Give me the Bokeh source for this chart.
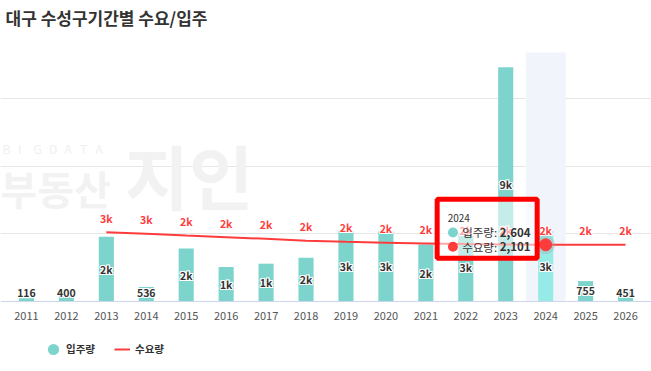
from bokeh.plotting import figure
from bokeh.models import FactorRange, Range1d, ColumnDataSource, FixedTicker, Legend, LegendItem, Label
from bokeh.core.properties import value
from bokeh.embed import file_html
from bokeh.resources import INLINE

# ---------------- data ----------------
years = [str(y) for y in range(2011, 2027)]
supply = [116, 400, 2400, 536, 1960, 1280, 1400, 1620, 2610, 2600, 2110, 2550, 8680, 2604, 755, 451]
demand_years = [str(y) for y in range(2013, 2027)]
demand = [2567, 2505, 2440, 2380, 2320, 2250, 2210, 2180, 2150, 2125, 2110, 2101, 2101, 2101]
highlight_year = "2024"
title_text = "대구 수성구기간별 수요/입주"
supply_name = "입주량"
demand_name = "수요량"

# ---------------- style ----------------
FONT = "Noto Sans CJK KR"
BAR = "#7dd4cd"
BAR_HI = "#96ebe6"
RED = "#ff3c3c"
BAND = "#f1f4fa"
W, H = 651, 371
PAD = 0.15                        # category units of padding on each side
TOP = 52                          # page row of the plot-area top
AXIS_Y = 301                      # page row of the value-zero line
Y_END = 9222                      # value at the plot-area top
px_y = Y_END / (AXIS_Y - TOP)     # data units per pixel
px_x = (len(years) + 2 * PAD) / W # category units per pixel
X0 = -PAD                         # synthetic x at the left page edge


def kfmt(v):
    return str(v) if v < 1000 else f"{int(v / 1000 + 0.5)}k"


page_x = lambda px: X0 + px * px_x
page_y = lambda py: (AXIS_Y - py) * px_y

p = figure(x_range=FactorRange(*years, range_padding=PAD, range_padding_units="absolute"),
           y_range=Range1d(page_y(H), page_y(0)),
           width=W, height=H, output_backend="svg", toolbar_location=None,
           min_border=0)
p.outline_line_color = None

p.xgrid.visible = False
p.yaxis.visible = False
p.ygrid.ticker = FixedTicker(ticks=[2500, 5000, 7500])
p.ygrid.grid_line_color = "#e6e6e6"
p.xaxis.fixed_location = 0
p.xaxis.axis_line_color = "#ccd6eb"
p.xaxis.major_tick_line_color = None
p.xaxis.minor_tick_line_color = None
p.xaxis.major_label_text_font = FONT
p.xaxis.major_label_text_font_size = "11px"
p.xaxis.major_label_text_color = "#555555"
p.xaxis.major_label_standoff = 4

# ---------------- title ----------------
p.add_layout(Label(x=page_x(5), y=page_y(17), text=title_text, text_font=FONT,
                   text_font_size="17px", text_font_style="bold", text_color="#333333",
                   text_baseline="middle"))

# ---------------- watermark ----------------
wm_letters = list("BIGDATA")
p.text(x=[page_x(2 + 15.5 * i) for i in range(len(wm_letters))], y=[page_y(148)] * len(wm_letters),
       text=wm_letters, text_font=value(FONT), text_font_size="12px", text_color="#efefef",
       text_baseline="middle")
p.text(x=[page_x(0)], y=[page_y(187)], text=["부동산"], text_font=value(FONT), text_font_style="bold",
       text_font_size="40px", text_color="#f2f2f2", text_baseline="middle")
p.text(x=[page_x(124)], y=[page_y(174)], text=["지인"], text_font=value(FONT), text_font_style="bold",
       text_font_size="70px", text_color="#f2f2f2", text_baseline="middle")

# ---------------- highlight band ----------------
p.vbar(x=[highlight_year], top=[Y_END], bottom=[0], width=1.0, fill_color=BAND, line_color=None)


def halo_text(src, color, **kw):
    base = kw.pop("y_offset", 0)
    for dx, dy in [(-1, 0), (1, 0), (0, -1), (0, 1), (-1, -1), (1, 1), (-1, 1), (1, -1)]:
        p.text(source=src, text_color="white", x_offset=dx, y_offset=base + dy, **kw)
    p.text(source=src, text_color=color, y_offset=base, **kw)


# ---------------- bars ----------------
min_label = 9 * px_y
bar_src = ColumnDataSource(dict(
    x=years, top=supply,
    color=[BAR_HI if y == highlight_year else BAR for y in years],
    lbl=[kfmt(v) for v in supply],
    ly=[max(v / 2, min_label) for v in supply],
))
p.vbar(x="x", top="top", bottom=0, width=0.378, fill_color="color", line_color=None, source=bar_src)
halo_text(bar_src, "#333333", x="x", y="ly", text="lbl", text_align="center", text_baseline="middle",
          text_font=value(FONT), text_font_size="10.5px", text_font_style="bold")

# ---------------- demand line ----------------
line_src = ColumnDataSource(dict(x=demand_years, y=demand, lbl=[kfmt(v) for v in demand]))
line_r = p.line(x="x", y="y", source=line_src, line_color=RED, line_width=2)
halo_text(line_src, RED, x="x", y="y", text="lbl", text_align="center", text_baseline="middle",
          y_offset=-14, text_font=value(FONT), text_font_size="10.5px", text_font_style="bold")

hi = years.index(highlight_year)
hv_supply = supply[hi]
hv_demand = demand[demand_years.index(highlight_year)]
pt_x = hi + 0.5
p.scatter(x=[pt_x], y=[hv_demand], size=19, fill_color="#aaaaaa", fill_alpha=0.35, line_color=None)
p.scatter(x=[pt_x], y=[hv_demand], size=12, fill_color=RED, line_color=RED)

# ---------------- tooltip ----------------
tx = lambda dx: pt_x + dx * px_x
ty = lambda dy: hv_demand - dy * px_y
p.quad(left=[tx(-108.5)], right=[tx(-8.5)], top=[ty(-45.5)], bottom=[ty(13.5)],
       fill_color="white", fill_alpha=0.55, line_color="#ff0000", line_width=5)
p.text(x=[tx(-98)], y=[ty(-27)], text=[highlight_year], text_font=value(FONT),
       text_font_size="10px", text_color="#333333", text_baseline="middle")
teal_dot = p.ellipse(x=[tx(-92.7)], y=[ty(-12.3)], width=10, height=10, width_units="screen",
                     height_units="screen", fill_color=BAR, line_color=None)
p.ellipse(x=[tx(-92.7)], y=[ty(2)], width=10, height=10, width_units="screen",
          height_units="screen", fill_color=RED, line_color=None)
p.text(x=[tx(-83.5), tx(-83.5)], y=[ty(-12.3), ty(2)], text=[supply_name + ":", demand_name + ":"],
       text_font=value(FONT), text_font_size="11.5px", text_color="#333333", text_baseline="middle")
p.text(x=[tx(-46), tx(-46)], y=[ty(-12.3), ty(2)], text=[f"{hv_supply:,}", f"{hv_demand:,}"],
       text_font=value(FONT), text_font_size="11.5px", text_font_style="bold",
       text_color="#333333", text_baseline="middle")

# ---------------- legend ----------------
legend = Legend(items=[LegendItem(label=supply_name, renderers=[teal_dot]),
                       LegendItem(label=demand_name, renderers=[line_r])],
                orientation="horizontal", location=(45, 15),
                glyph_width=16, glyph_height=14, label_standoff=5, spacing=19,
                padding=0, margin=0, border_line_color=None, background_fill_alpha=0,
                label_text_font=FONT, label_text_font_size="10.5px", label_text_font_style="bold",
                label_text_color="#333333", label_height=14)
p.add_layout(legend, "center")

open("out.html", "w").write(file_html(p, INLINE))
